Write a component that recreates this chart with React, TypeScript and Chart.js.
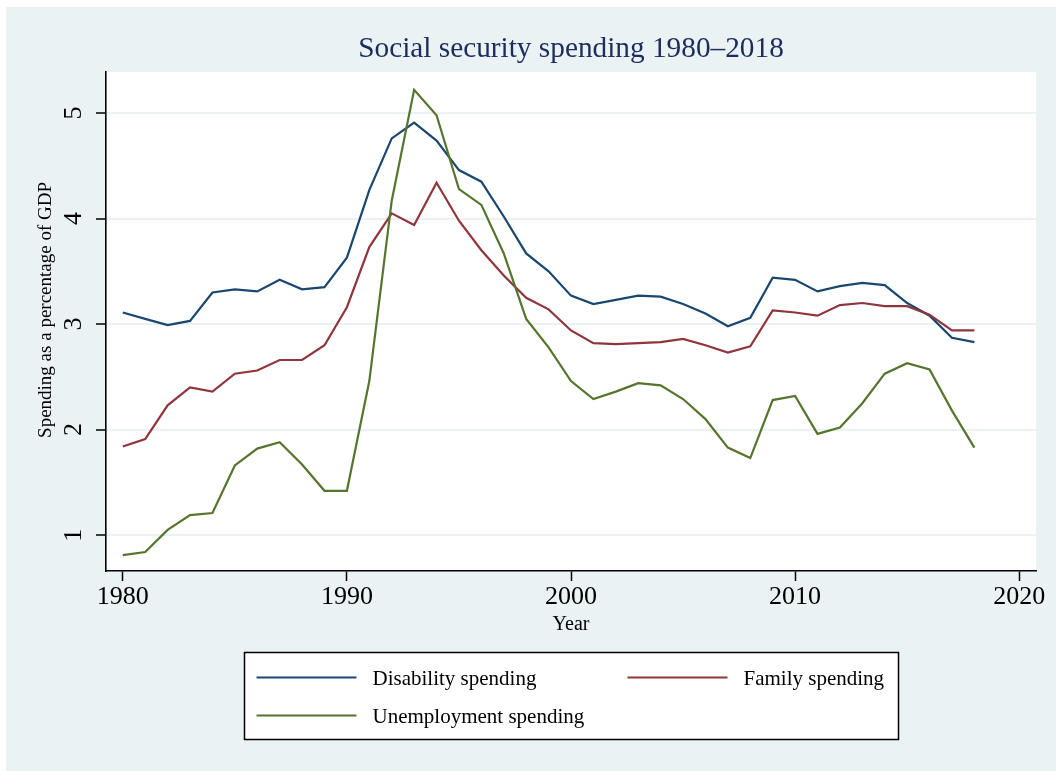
import React, { useEffect, useRef } from "react";
import { Chart, registerables } from "chart.js";

Chart.register(...registerables);

// Spending as a percentage of GDP, 1980–2018
const years = [
  1980, 1981, 1982, 1983, 1984, 1985, 1986, 1987, 1988, 1989,
  1990, 1991, 1992, 1993, 1994, 1995, 1996, 1997, 1998, 1999,
  2000, 2001, 2002, 2003, 2004, 2005, 2006, 2007, 2008, 2009,
  2010, 2011, 2012, 2013, 2014, 2015, 2016, 2017, 2018,
];
const disability = [
  3.11, 3.05, 2.99, 3.03, 3.3, 3.33, 3.31, 3.42, 3.33, 3.35,
  3.63, 4.27, 4.76, 4.91, 4.74, 4.46, 4.35, 4.02, 3.67, 3.5,
  3.27, 3.19, 3.23, 3.27, 3.26, 3.19, 3.1, 2.98, 3.06, 3.44,
  3.42, 3.31, 3.36, 3.39, 3.37, 3.2, 3.08, 2.87, 2.83,
];
const family = [
  1.84, 1.91, 2.23, 2.4, 2.36, 2.53, 2.56, 2.66, 2.66, 2.8,
  3.16, 3.73, 4.05, 3.94, 4.34, 3.98, 3.7, 3.46, 3.25, 3.14,
  2.94, 2.82, 2.81, 2.82, 2.83, 2.86, 2.8, 2.73, 2.79, 3.13,
  3.11, 3.08, 3.18, 3.2, 3.17, 3.17, 3.09, 2.94, 2.94,
];
const unemployment = [
  0.81, 0.84, 1.05, 1.19, 1.21, 1.66, 1.82, 1.88, 1.67, 1.42,
  1.42, 2.46, 4.17, 5.22, 4.98, 4.28, 4.13, 3.67, 3.05, 2.78,
  2.46, 2.29, 2.36, 2.44, 2.42, 2.29, 2.1, 1.83, 1.73, 2.28,
  2.32, 1.96, 2.02, 2.25, 2.53, 2.63, 2.57, 2.18, 1.83,
];

const xTicks = [1980, 1990, 2000, 2010, 2020];
const yTicks = [1, 2, 3, 4, 5];

const seriesNames = ["Disability spending", "Family spending", "Unemployment spending"];
const seriesValues = [disability, family, unemployment];
const seriesColors = ["#1a476f", "#90353b", "#55752f"];

const titleText = "Social security spending 1980–2018";
const yTitle = "Spending as a percentage of GDP";
const xTitle = "Year";

const SERIF = '"Liberation Serif", "Times New Roman", Times, serif';
const REGION_BG = "#eaf2f3";
const TITLE_COLOR = "#1c2c5c";

const W = 1050;
const H = 764;

// Background, rotated y-axis text and the boxed two-column legend
const stataFrame = {
  id: "stataFrame",
  beforeDraw(chart: any) {
    const { ctx, chartArea: a } = chart;
    ctx.save();
    ctx.fillStyle = REGION_BG;
    ctx.fillRect(0, 0, chart.width, chart.height);
    ctx.fillStyle = "#ffffff";
    ctx.fillRect(a.left, a.top, a.right - a.left, a.bottom - a.top);
    ctx.restore();
  },
  afterDraw(chart: any) {
    const { ctx, chartArea: a } = chart;
    const y = chart.scales.y;
    ctx.save();
    ctx.fillStyle = "#000";
    ctx.textAlign = "center";
    ctx.textBaseline = "middle";

    // y tick labels, rotated
    ctx.font = `26px ${SERIF}`;
    for (const t of y.ticks) {
      const py = y.getPixelForValue(t.value);
      ctx.save();
      ctx.translate(a.left - 32, py);
      ctx.rotate(-Math.PI / 2);
      ctx.fillText(String(t.value), 0, 0);
      ctx.restore();
    }

    // y axis title
    ctx.font = `19px ${SERIF}`;
    ctx.save();
    ctx.translate(a.left - 59.5, a.top + 238);
    ctx.rotate(-Math.PI / 2);
    ctx.fillText(yTitle, 0, 0);
    ctx.restore();

    // legend box
    const boxW = 654;
    const boxH = 87;
    const bx = Math.round((a.left + a.right) / 2 - boxW / 2) + 0.5;
    const by = Math.round(a.bottom + 81) + 0.5;
    ctx.fillStyle = "#ffffff";
    ctx.fillRect(bx, by, boxW, boxH);
    ctx.strokeStyle = "#000";
    ctx.lineWidth = 1.5;
    ctx.strokeRect(bx, by, boxW, boxH);

    const cols = [12, 383];
    const rows = [25, 63];
    ctx.font = `21px ${SERIF}`;
    ctx.textAlign = "left";
    chart.data.datasets.forEach((ds: any, i: number) => {
      const cx = bx + cols[i % 2];
      const cy = by + rows[Math.floor(i / 2)];
      ctx.strokeStyle = ds.borderColor;
      ctx.lineWidth = 2.2;
      ctx.beginPath();
      ctx.moveTo(cx, cy);
      ctx.lineTo(cx + 100, cy);
      ctx.stroke();
      ctx.fillStyle = "#000";
      ctx.fillText(ds.label, cx + 116, cy + 2);
    });
    ctx.restore();
  },
};

export default function App() {
  const ref = useRef<HTMLCanvasElement | null>(null);

  useEffect(() => {
    if (!ref.current) return;
    const datasets = seriesNames.map((name, i) => ({
      label: name,
      data: years.map((yr, k) => ({ x: yr, y: seriesValues[i][k] })),
      borderColor: seriesColors[i],
      backgroundColor: seriesColors[i],
      borderWidth: 2.2,
      pointRadius: 0,
      tension: 0,
      fill: false,
      order: seriesNames.length - i,
    }));

    const chart = new Chart(ref.current, {
      type: "line",
      data: { datasets },
      plugins: [stataFrame],
      options: {
        animation: false,
        responsive: false,
        devicePixelRatio: 1,
        layout: { padding: { left: 0, right: 20, top: 0, bottom: 134 } },
        plugins: {
          legend: { display: false },
          tooltip: { enabled: false },
          title: {
            display: true,
            text: titleText,
            color: TITLE_COLOR,
            fullSize: false,
            font: { family: SERIF, size: 29.3, weight: "normal" },
            padding: { top: 24.4, bottom: 5.4 },
          },
        },
        scales: {
          x: {
            type: "linear",
            min: 1979.25,
            max: 2020.75,
            afterBuildTicks: (s: any) => {
              s.ticks = xTicks.map((v) => ({ value: v }));
            },
            afterFit: (s: any) => {
              s.height = 66;
            },
            ticks: {
              color: "#000",
              padding: 1,
              maxRotation: 0,
              font: { family: SERIF, size: 26 },
              callback: (v: any) => String(v),
            },
            grid: {
              drawOnChartArea: false,
              drawTicks: true,
              tickLength: 10,
              tickColor: "#000",
              tickWidth: 1.5,
            },
            border: { display: true, color: "#000", width: 1.6 },
            title: {
              display: true,
              text: xTitle,
              color: "#000",
              font: { family: SERIF, size: 20 },
              padding: { top: 0, bottom: 0 },
            },
          },
          y: {
            type: "linear",
            min: 0.66,
            max: 5.39,
            afterBuildTicks: (s: any) => {
              s.ticks = yTicks.map((v) => ({ value: v }));
            },
            afterFit: (s: any) => {
              s.width = 100;
            },
            ticks: { display: false },
            grid: {
              color: REGION_BG,
              lineWidth: 2,
              drawTicks: true,
              tickLength: 10,
              tickColor: "#000",
              tickWidth: 1.5,
            },
            border: { display: true, color: "#000", width: 1.6 },
          },
        },
      },
    } as any);

    return () => chart.destroy();
  }, []);

  return (
    <canvas
      ref={ref}
      width={W}
      height={H}
      style={{ position: "absolute", left: 6, top: 7, width: W, height: H, display: "block" }}
    />
  );
}
